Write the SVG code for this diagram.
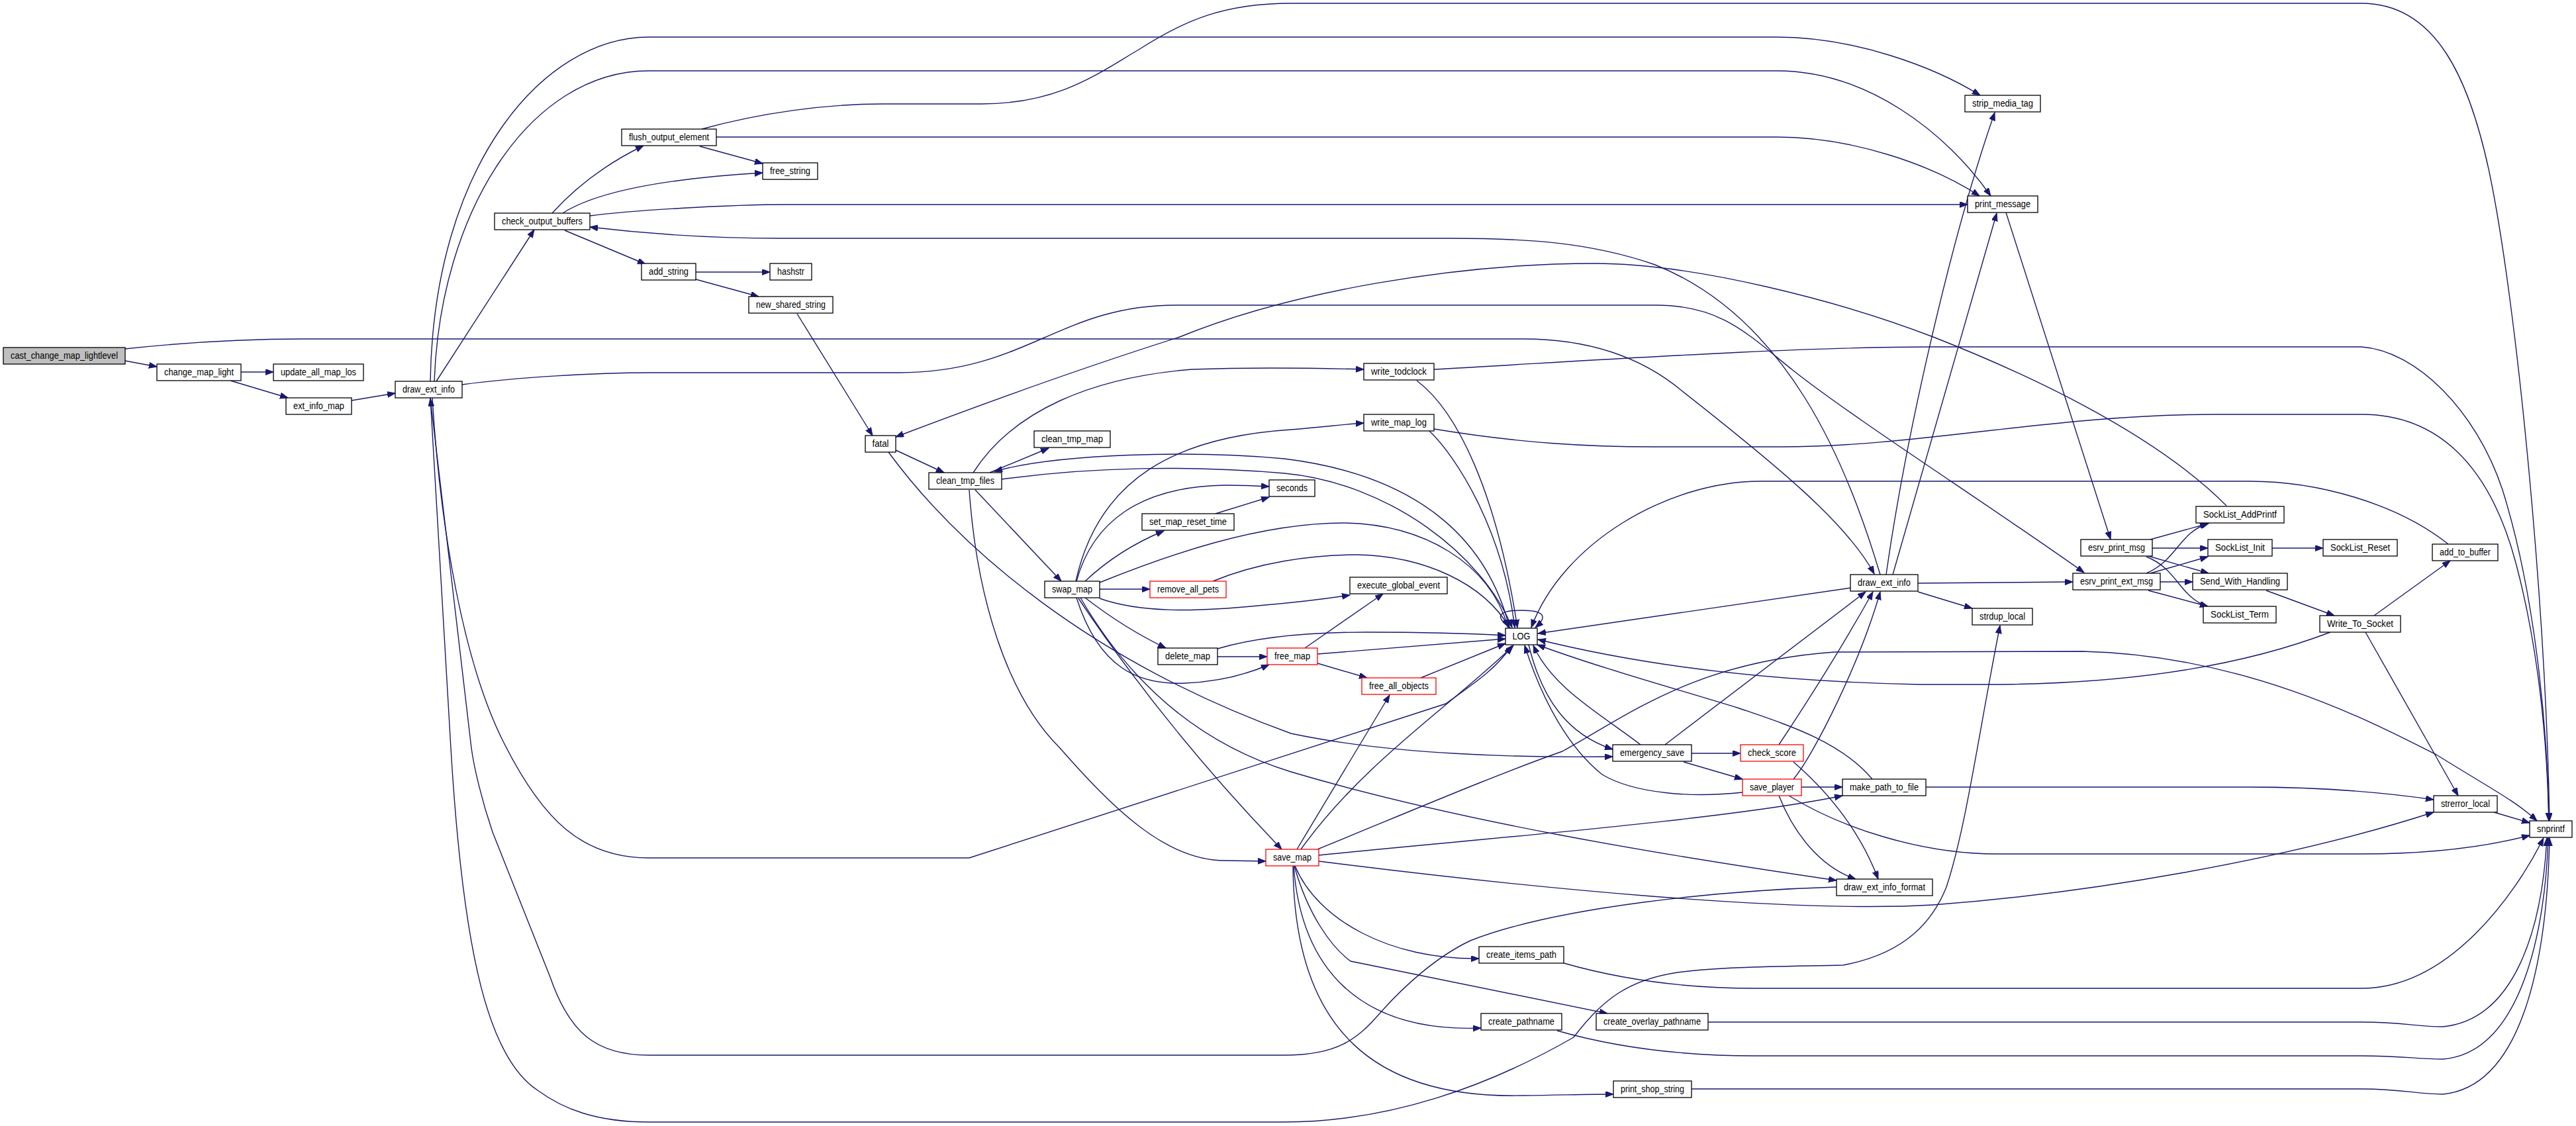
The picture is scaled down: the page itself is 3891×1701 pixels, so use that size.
<svg xmlns="http://www.w3.org/2000/svg" width="3891" height="1701" viewBox="0 0 3891 1701">
<style>
.n rect{fill:#fff;stroke:#000;stroke-width:1.3}
.n.r rect{stroke:#f00}
.n.g rect{fill:#bfbfbf}
.n text{font-family:"Liberation Sans",Arial,sans-serif;font-size:14px;fill:#000;text-anchor:middle}
#edges path{fill:none;stroke:#191970;stroke-width:1.4;marker-end:url(#a)}
</style>
<defs>
<marker id="a" markerUnits="userSpaceOnUse" markerWidth="14" markerHeight="10" refX="12" refY="4.5" orient="auto"><path d="M0,0 L12,4.5 L0,9 z" fill="#191970" stroke="#191970" stroke-width="1"/></marker>
</defs>
<rect width="3891" height="1701" fill="#fff"/>
<g id="edges">
<path d="M189,545 L237,554"/>
<path d="M189,527 C300,515 400,512 460,512 L2300,512 C2400,512 2480,540 2540,590 C2680,700 2790,790 2831,867"/>
<path d="M364,562 L413,562"/>
<path d="M348,575 L435,601"/>
<path d="M531,605 L597,594"/>
<path d="M659,576 L807,347"/>
<path d="M650,576 C655,250 820,56 980,56 L2684,56 C2800,56 2920,100 2991,144"/>
<path d="M656,576 C665,320 800,107 980,107 L2684,107 C2820,107 2940,200 3007,296"/>
<path d="M698,581 C780,570 900,563 980,563 L1357,563 C1550,563 1600,461 1776,461 L2502,461 C2600,461 2640,505 2709,560 C2800,632 3000,760 3148,865"/>
<path d="M834,322 Q890,260 972,220"/>
<path d="M850,322 C900,290 1000,270 1152,261"/>
<path d="M891,326 C950,318 1100,309 1189,309 L2972,309"/>
<path d="M853,348 L975,399"/>
<path d="M1057,221 L1152,247"/>
<path d="M1082,207 L2684,207 C2800,207 2920,250 2990,296"/>
<path d="M1060,195 C1150,170 1250,157 1333,157 L1482,157 C1600,157 1660,110 1720,75 C1790,30 1850,5 1950,5 L3567,5 C3680,5 3730,120 3760,260 C3800,450 3845,900 3851,1240"/>
<path d="M1051,411 L1163,411"/>
<path d="M1051,422 L1146,448"/>
<path d="M1204,474 L1318,658"/>
<path d="M2840,868 C2790,700 2700,480 2500,400 C2400,365 2300,360 2190,360 L1176,360 C1050,360 950,350 891,343"/>
<path d="M2849,868 C2880,650 2950,350 3013,170"/>
<path d="M2859,868 L3016,322"/>
<path d="M2897,881 L3131,879"/>
<path d="M2897,894 L2979,919"/>
<path d="M2796,888 L2323,957"/>
<path d="M3030,321 L3188,815"/>
<path d="M3248,815 L3335,791"/>
<path d="M3251,828 L3335,828"/>
<path d="M3245,840 L3336,866"/>
<path d="M3242,841 C3290,860 3290,900 3335,917"/>
<path d="M3242,866 C3290,845 3290,805 3337,790"/>
<path d="M3248,866 L3335,841"/>
<path d="M3263,879 L3312,879"/>
<path d="M3245,892 L3335,916"/>
<path d="M3432,828 L3509,828"/>
<path d="M3423,892 L3526,930"/>
<path d="M3586,930 L3701,847"/>
<path d="M3573,955 L3713,1202"/>
<path d="M3520,955 C3350,1020 3150,1034 3000,1034 L2900,1034 C2700,1030 2500,1010 2323,966"/>
<path d="M3698,822 C3620,760 3500,727 3398,727 L2659,727 C2520,727 2360,820 2313,948"/>
<path d="M2282,949 C2255,930 2265,922 2298,922 C2330,922 2340,930 2319,948"/>
<path d="M2140,575 C2200,620 2260,740 2292,948"/>
<path d="M2159,651 C2200,690 2270,800 2288,948"/>
<path d="M2166,648 C2300,670 2400,675 2500,675 L2690,675 C2900,675 3100,626 3348,626 L3567,626 C3680,626 3760,700 3800,850 C3840,1000 3848,1150 3850,1240"/>
<path d="M1513,724 C1650,705 1800,703 1940,715 C2100,730 2240,840 2284,948"/>
<path d="M2280,948 C2250,830 2160,720 1940,693 C1800,680 1600,685 1502,712"/>
<path d="M1661,880 C1760,840 1900,790 2030,790 C2150,792 2250,850 2278,948"/>
<path d="M1832,878 C1900,850 1980,838 2050,838 C2150,840 2240,880 2280,948"/>
<path d="M1839,980 C1900,962 1980,955 2065,955 C2150,955 2220,957 2274,960"/>
<path d="M1990,988 L2274,965"/>
<path d="M2146,1024 L2274,972"/>
<path d="M653,601 C665,800 700,1000 760,1120 C820,1240 880,1296 980,1296 L1464,1296 L2184,1063 C2230,1030 2260,1010 2283,976"/>
<path d="M2515,1125 L2818,894"/>
<path d="M2687,1125 Q2770,1000 2829,894"/>
<path d="M2709,1177 C2740,1140 2810,1000 2840,894"/>
<path d="M2555,1138 L2629,1138"/>
<path d="M2543,1151 L2632,1177"/>
<path d="M2709,1151 Q2800,1230 2837,1328"/>
<path d="M2721,1189 L2783,1189"/>
<path d="M2687,1202 C2710,1260 2750,1310 2803,1328"/>
<path d="M2702,1202 C2780,1250 2900,1290 3016,1290 L3567,1290 C3680,1290 3760,1278 3821,1262"/>
<path d="M2909,1189 L3398,1189 C3500,1189 3600,1197 3676,1208"/>
<path d="M3767,1227 L3821,1243"/>
<path d="M2828,1177 C2780,1120 2700,1095 2627,1070 C2530,1040 2420,1010 2322,974"/>
<path d="M2632,1197 C2560,1205 2470,1200 2420,1170 C2370,1130 2330,1060 2303,975"/>
<path d="M2309,974 C2330,1060 2370,1110 2436,1132"/>
<path d="M2478,1125 C2420,1080 2345,1040 2316,975"/>
<path d="M1992,1292 C2200,1270 2600,1240 2783,1202"/>
<path d="M1992,1301 C2300,1340 2700,1380 2920,1367 C3150,1350 3450,1300 3676,1227"/>
<path d="M1990,1283 C2120,1230 2260,1170 2360,1135 C2460,1080 2560,1000 2771,985 L3146,984 C3400,990 3600,1100 3680,1140 C3760,1190 3800,1210 3832,1240"/>
<path d="M1965,1283 C2060,1150 2200,1060 2286,975"/>
<path d="M1959,1283 L2099,1050"/>
<path d="M1956,1308 C1990,1390 2100,1450 2234,1448"/>
<path d="M1955,1308 C1975,1380 2010,1430 2040,1452 L2428,1531"/>
<path d="M1954,1308 C1965,1460 2050,1560 2237,1553"/>
<path d="M1953,1308 C1955,1560 2080,1660 2300,1655 C2370,1654 2400,1653 2437,1653"/>
<path d="M2362,1455 C2450,1480 2550,1493 2650,1493 L3567,1493 C3700,1493 3800,1350 3842,1266"/>
<path d="M2580,1544 L3567,1544 C3630,1544 3650,1551 3690,1551 C3800,1540 3840,1400 3847,1266"/>
<path d="M2352,1557 C2450,1585 2550,1595 2650,1595 L3567,1595 C3630,1595 3650,1600 3690,1600 C3810,1590 3845,1400 3849,1266"/>
<path d="M2555,1645 L3567,1645 C3630,1645 3650,1653 3690,1653 C3820,1640 3848,1420 3851,1266"/>
<path d="M2774,1340 C2600,1345 2350,1370 2221,1421 C2170,1445 2120,1490 2084,1531 C2050,1570 2020,1594 1940,1594 L980,1594 C900,1594 860,1560 831,1476 L744,1257 C728,1210 716,1160 712,1130 L650,602"/>
<path d="M650,601 L681,1130 C700,1450 740,1600 812,1647 C850,1675 900,1695 980,1695 L1940,1695 C2100,1695 2250,1640 2377,1567 C2420,1510 2460,1480 2534,1469 C2600,1460 2700,1460 2784,1458 C2880,1440 2920,1390 2940,1340 C2970,1250 2990,1100 3021,945"/>
<path d="M1632,903 C1700,1020 1800,1120 1950,1166 C2200,1240 2500,1290 2774,1330"/>
<path d="M1629,904 Q1760,1100 1936,1283"/>
<path d="M1464,740 C1475,900 1520,1050 1601,1130 C1680,1220 1760,1300 1850,1300 L1912,1301"/>
<path d="M1473,740 L1603,878"/>
<path d="M1495,714 L1584,677"/>
<path d="M1470,714 C1530,620 1650,570 1800,558 C1880,555 1950,555 2060,558"/>
<path d="M1353,680 L1426,714"/>
<path d="M1342,683 C1450,830 1650,1000 1950,1108 C2100,1140 2300,1145 2436,1143"/>
<path d="M3363,764 C3250,650 3050,560 2920,509 C2780,455 2560,398 2409,398 C2200,398 1950,440 1782,509 C1700,535 1550,585 1353,660"/>
<path d="M1626,878 C1650,790 1720,735 1850,733 C1880,733 1900,734 1917,735"/>
<path d="M1625,878 C1660,720 1780,660 1950,649 C2000,645 2030,641 2060,639"/>
<path d="M1639,878 Q1690,830 1758,802"/>
<path d="M1661,890 L1737,890"/>
<path d="M1661,904 C1720,925 1800,925 1900,915 C1960,910 2000,905 2039,899"/>
<path d="M1639,903 Q1700,950 1761,979"/>
<path d="M1626,903 C1660,1010 1720,1035 1790,1032 C1840,1030 1880,1020 1917,1004"/>
<path d="M1839,992 L1914,992"/>
<path d="M1836,776 L1917,751"/>
<path d="M1971,979 L2089,897"/>
<path d="M1990,1002 L2065,1024"/>
<path d="M2166,558 C2400,545 2700,524 2920,524 L3567,524 C3650,530 3740,620 3780,740 C3830,900 3848,1100 3850,1240"/>
</g>
<g id="node-cast_change_map_lightlevel" class="n g"><rect x="5" y="525" width="184" height="25"/><text x="97" y="542" textLength="162" lengthAdjust="spacingAndGlyphs">cast_change_map_lightlevel</text></g>
<g id="node-change_map_light" class="n"><rect x="237" y="550" width="127" height="25"/><text x="300.5" y="567" textLength="105" lengthAdjust="spacingAndGlyphs">change_map_light</text></g>
<g id="node-update_all_map_los" class="n"><rect x="413" y="550" width="136" height="25"/><text x="481" y="567" textLength="114" lengthAdjust="spacingAndGlyphs">update_all_map_los</text></g>
<g id="node-ext_info_map" class="n"><rect x="432" y="601" width="99" height="25"/><text x="481.5" y="618" textLength="77" lengthAdjust="spacingAndGlyphs">ext_info_map</text></g>
<g id="node-draw_ext_info_1" class="n"><rect x="597" y="576" width="101" height="25"/><text x="647.5" y="593" textLength="79" lengthAdjust="spacingAndGlyphs">draw_ext_info</text></g>
<g id="node-check_output_buffers" class="n"><rect x="747" y="322" width="144" height="25"/><text x="819" y="339" textLength="122" lengthAdjust="spacingAndGlyphs">check_output_buffers</text></g>
<g id="node-flush_output_element" class="n"><rect x="939" y="195" width="143" height="25"/><text x="1010.5" y="212" textLength="121" lengthAdjust="spacingAndGlyphs">flush_output_element</text></g>
<g id="node-free_string" class="n"><rect x="1152" y="246" width="83" height="25"/><text x="1193.5" y="263" textLength="61" lengthAdjust="spacingAndGlyphs">free_string</text></g>
<g id="node-add_string" class="n"><rect x="969" y="398" width="82" height="25"/><text x="1010" y="415" textLength="60" lengthAdjust="spacingAndGlyphs">add_string</text></g>
<g id="node-hashstr" class="n"><rect x="1163" y="398" width="63" height="25"/><text x="1194.5" y="415" textLength="41" lengthAdjust="spacingAndGlyphs">hashstr</text></g>
<g id="node-new_shared_string" class="n"><rect x="1131" y="448" width="127" height="25"/><text x="1194.5" y="465" textLength="105" lengthAdjust="spacingAndGlyphs">new_shared_string</text></g>
<g id="node-fatal" class="n"><rect x="1307" y="658" width="46" height="25"/><text x="1330" y="675" textLength="25" lengthAdjust="spacingAndGlyphs">fatal</text></g>
<g id="node-clean_tmp_map" class="n"><rect x="1562" y="651" width="115" height="25"/><text x="1619.5" y="668" textLength="93" lengthAdjust="spacingAndGlyphs">clean_tmp_map</text></g>
<g id="node-clean_tmp_files" class="n"><rect x="1403" y="714" width="110" height="25"/><text x="1458" y="731" textLength="88" lengthAdjust="spacingAndGlyphs">clean_tmp_files</text></g>
<g id="node-swap_map" class="n"><rect x="1578" y="878" width="83" height="25"/><text x="1619.5" y="895" textLength="61" lengthAdjust="spacingAndGlyphs">swap_map</text></g>
<g id="node-write_todclock" class="n"><rect x="2060" y="549" width="106" height="25"/><text x="2113" y="566" textLength="84" lengthAdjust="spacingAndGlyphs">write_todclock</text></g>
<g id="node-write_map_log" class="n"><rect x="2060" y="626" width="106" height="25"/><text x="2113" y="643" textLength="84" lengthAdjust="spacingAndGlyphs">write_map_log</text></g>
<g id="node-seconds" class="n"><rect x="1917" y="725" width="69" height="25"/><text x="1951.5" y="742" textLength="47" lengthAdjust="spacingAndGlyphs">seconds</text></g>
<g id="node-set_map_reset_time" class="n"><rect x="1725" y="776" width="139" height="25"/><text x="1794.5" y="793" textLength="117" lengthAdjust="spacingAndGlyphs">set_map_reset_time</text></g>
<g id="node-remove_all_pets" class="n r"><rect x="1737" y="878" width="115" height="25"/><text x="1794.5" y="895" textLength="93" lengthAdjust="spacingAndGlyphs">remove_all_pets</text></g>
<g id="node-execute_global_event" class="n"><rect x="2039" y="872" width="147" height="25"/><text x="2112.5" y="889" textLength="125" lengthAdjust="spacingAndGlyphs">execute_global_event</text></g>
<g id="node-delete_map" class="n"><rect x="1749" y="979" width="90" height="25"/><text x="1794" y="996" textLength="68" lengthAdjust="spacingAndGlyphs">delete_map</text></g>
<g id="node-free_map" class="n r"><rect x="1914" y="979" width="76" height="25"/><text x="1952" y="996" textLength="54" lengthAdjust="spacingAndGlyphs">free_map</text></g>
<g id="node-LOG" class="n"><rect x="2274" y="949" width="48" height="25"/><text x="2298" y="966" textLength="27" lengthAdjust="spacingAndGlyphs">LOG</text></g>
<g id="node-free_all_objects" class="n r"><rect x="2057" y="1024" width="112" height="25"/><text x="2113" y="1041" textLength="90" lengthAdjust="spacingAndGlyphs">free_all_objects</text></g>
<g id="node-save_map" class="n r"><rect x="1912" y="1283" width="80" height="25"/><text x="1952" y="1300" textLength="58" lengthAdjust="spacingAndGlyphs">save_map</text></g>
<g id="node-emergency_save" class="n"><rect x="2436" y="1125" width="119" height="25"/><text x="2495.5" y="1142" textLength="97" lengthAdjust="spacingAndGlyphs">emergency_save</text></g>
<g id="node-check_score" class="n r"><rect x="2629" y="1125" width="95" height="25"/><text x="2676.5" y="1142" textLength="73" lengthAdjust="spacingAndGlyphs">check_score</text></g>
<g id="node-save_player" class="n r"><rect x="2632" y="1177" width="89" height="25"/><text x="2676.5" y="1194" textLength="67" lengthAdjust="spacingAndGlyphs">save_player</text></g>
<g id="node-make_path_to_file" class="n"><rect x="2783" y="1177" width="126" height="25"/><text x="2846" y="1194" textLength="104" lengthAdjust="spacingAndGlyphs">make_path_to_file</text></g>
<g id="node-draw_ext_info_format" class="n"><rect x="2774" y="1328" width="145" height="25"/><text x="2846.5" y="1345" textLength="123" lengthAdjust="spacingAndGlyphs">draw_ext_info_format</text></g>
<g id="node-create_items_path" class="n"><rect x="2234" y="1430" width="128" height="25"/><text x="2298" y="1447" textLength="106" lengthAdjust="spacingAndGlyphs">create_items_path</text></g>
<g id="node-create_pathname" class="n"><rect x="2237" y="1531" width="122" height="25"/><text x="2298" y="1548" textLength="100" lengthAdjust="spacingAndGlyphs">create_pathname</text></g>
<g id="node-create_overlay_pathname" class="n"><rect x="2411" y="1531" width="169" height="25"/><text x="2495.5" y="1548" textLength="147" lengthAdjust="spacingAndGlyphs">create_overlay_pathname</text></g>
<g id="node-print_shop_string" class="n"><rect x="2437" y="1633" width="118" height="25"/><text x="2496" y="1650" textLength="96" lengthAdjust="spacingAndGlyphs">print_shop_string</text></g>
<g id="node-draw_ext_info_2" class="n"><rect x="2795" y="868" width="102" height="25"/><text x="2846" y="885" textLength="80" lengthAdjust="spacingAndGlyphs">draw_ext_info</text></g>
<g id="node-strip_media_tag" class="n"><rect x="2968" y="144" width="114" height="25"/><text x="3025" y="161" textLength="92" lengthAdjust="spacingAndGlyphs">strip_media_tag</text></g>
<g id="node-print_message" class="n"><rect x="2972" y="296" width="106" height="25"/><text x="3025" y="313" textLength="84" lengthAdjust="spacingAndGlyphs">print_message</text></g>
<g id="node-esrv_print_msg" class="n"><rect x="3143" y="815" width="108" height="25"/><text x="3197" y="832" textLength="86" lengthAdjust="spacingAndGlyphs">esrv_print_msg</text></g>
<g id="node-esrv_print_ext_msg" class="n"><rect x="3131" y="866" width="132" height="25"/><text x="3197" y="883" textLength="110" lengthAdjust="spacingAndGlyphs">esrv_print_ext_msg</text></g>
<g id="node-SockList_AddPrintf" class="n"><rect x="3317" y="765" width="133" height="25"/><text x="3383.5" y="782" textLength="111" lengthAdjust="spacingAndGlyphs">SockList_AddPrintf</text></g>
<g id="node-SockList_Init" class="n"><rect x="3335" y="815" width="97" height="25"/><text x="3383.5" y="832" textLength="75" lengthAdjust="spacingAndGlyphs">SockList_Init</text></g>
<g id="node-SockList_Reset" class="n"><rect x="3509" y="815" width="112" height="25"/><text x="3565" y="832" textLength="90" lengthAdjust="spacingAndGlyphs">SockList_Reset</text></g>
<g id="node-add_to_buffer" class="n"><rect x="3674" y="822" width="99" height="25"/><text x="3723.5" y="839" textLength="77" lengthAdjust="spacingAndGlyphs">add_to_buffer</text></g>
<g id="node-Send_With_Handling" class="n"><rect x="3312" y="866" width="143" height="25"/><text x="3383.5" y="883" textLength="121" lengthAdjust="spacingAndGlyphs">Send_With_Handling</text></g>
<g id="node-SockList_Term" class="n"><rect x="3328" y="916" width="110" height="25"/><text x="3383" y="933" textLength="88" lengthAdjust="spacingAndGlyphs">SockList_Term</text></g>
<g id="node-Write_To_Socket" class="n"><rect x="3504" y="930" width="122" height="25"/><text x="3565" y="947" textLength="100" lengthAdjust="spacingAndGlyphs">Write_To_Socket</text></g>
<g id="node-strdup_local" class="n"><rect x="2979" y="919" width="91" height="25"/><text x="3024.5" y="936" textLength="69" lengthAdjust="spacingAndGlyphs">strdup_local</text></g>
<g id="node-strerror_local" class="n"><rect x="3676" y="1202" width="96" height="25"/><text x="3724" y="1219" textLength="74" lengthAdjust="spacingAndGlyphs">strerror_local</text></g>
<g id="node-snprintf" class="n"><rect x="3821" y="1240" width="64" height="25"/><text x="3853" y="1257" textLength="42" lengthAdjust="spacingAndGlyphs">snprintf</text></g>
</svg>
